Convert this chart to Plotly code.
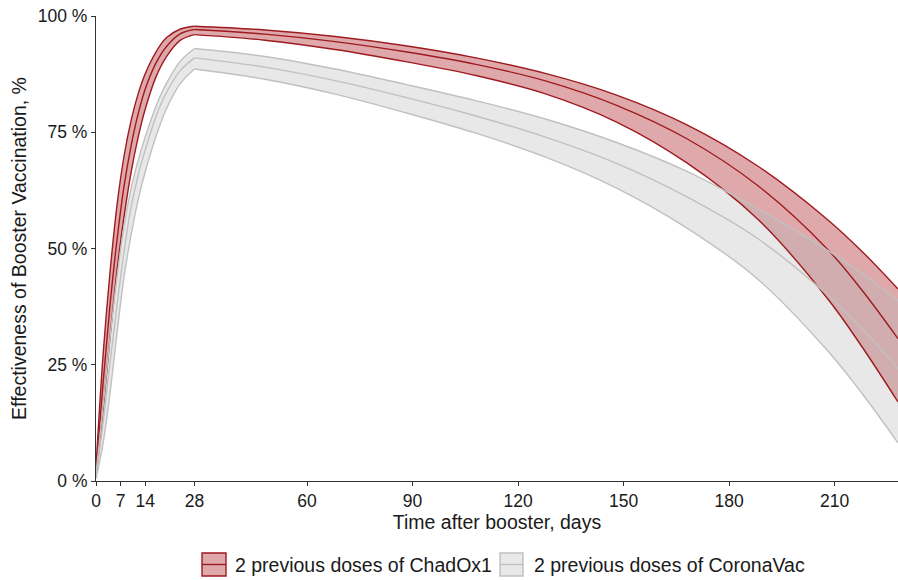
import plotly.graph_objects as go

# ---- data ----
days = [0, 2, 4, 6, 8, 10, 12, 14, 17, 20, 24, 28,
        48, 68, 88, 108, 128, 148, 168, 188, 208, 218, 228]

chad_mid = [2, 21, 38, 52, 63.5, 72.2, 79, 84.3, 89.8, 93.4, 96.2, 97.1,
            96.1, 94.5, 92.3, 89.6, 86.0, 80.8, 73.6, 63.6, 49.8, 40.8, 30.6]
chad_up = [3, 27, 45, 59.5, 70, 77.6, 83.3, 87.6, 92.2, 95.3, 97.2, 97.8,
           97.0, 95.6, 93.6, 91.0, 87.6, 83.0, 76.6, 67.8, 56.2, 49.2, 41.3]
chad_lo = [1, 15, 31, 45.5, 57, 66.5, 74, 80, 86.8, 91.2, 94.8, 96.0,
           94.8, 92.8, 90.2, 87.2, 83.2, 77.2, 68.4, 56.4, 39.2, 28.6, 17.0]

cv_up = [1.5, 16, 31, 44, 55, 63, 69, 74, 80.5, 85.5, 90.3, 93.0,
         91.3, 88.6, 85.3, 81.8, 77.8, 72.8, 66.6, 58.6, 49.6, 44.5, 38.8]
cv_mid = [1, 12.5, 25.5, 38, 49.5, 59, 65.8, 71.2, 78.3, 83.5, 88.3, 91.0,
          89.0, 86.1, 82.5, 78.5, 73.9, 68.3, 61.1, 52.2, 40.0, 32.6, 24.2]
cv_lo = [0.5, 8, 19, 32, 44, 53, 60.5, 66.5, 74, 80, 85.5, 88.6,
         86.4, 83.2, 79.2, 74.8, 69.6, 63.0, 54.4, 43.5, 28.0, 18.6, 8.2]

series_names = ["2 previous doses of ChadOx1", "2 previous doses of CoronaVac"]
x_ticks = [0, 7, 14, 28, 60, 90, 120, 150, 180, 210]
y_ticks = [0, 25, 50, 75, 100]
y_tick_labels = ["0 %", "25 %", "50 %", "75 %", "100 %"]
peak_day = 28

# ---- styling ----
RED_LINE = "rgb(158,26,30)"
RED_FILL = "rgba(170,30,36,0.38)"
GRAY_LINE = "rgb(192,192,192)"
GRAY_FILL = "rgba(185,185,185,0.32)"
FONT = "Liberation Sans, Arial, sans-serif"
TXT = "#1a1a1a"
LW = 1.4
SM = 1.0

k = days.index(peak_day)
segments = [slice(0, k + 1), slice(k, len(days))]   # rise and decline, each smoothed separately

fig = go.Figure()

def band(lo, up, fill):
    for s in segments:
        fig.add_trace(go.Scatter(x=days[s], y=lo[s], mode="lines",
                                 line=dict(width=0, shape="spline", smoothing=SM),
                                 showlegend=False, hoverinfo="skip"))
        fig.add_trace(go.Scatter(x=days[s], y=up[s], mode="lines",
                                 line=dict(width=0, shape="spline", smoothing=SM),
                                 fill="tonexty", fillcolor=fill,
                                 showlegend=False, hoverinfo="skip"))

def line(ys, col):
    for s in segments:
        fig.add_trace(go.Scatter(x=days[s], y=ys[s], mode="lines",
                                 line=dict(color=col, width=LW, shape="spline", smoothing=SM),
                                 showlegend=False))

band(chad_lo, chad_up, RED_FILL)
band(cv_lo, cv_up, GRAY_FILL)
for ys in (chad_lo, chad_up, chad_mid):
    line(ys, RED_LINE)
for ys in (cv_lo, cv_up, cv_mid):
    line(ys, GRAY_LINE)

# ---- manual ggplot-style legend (paper coordinates) ----
L, PW, B, PH = 96, 802, 481, 465
def px_x(p):
    return (p - L) / PW
def px_y(p):
    return (B - p) / PH

shapes = []
annotations = []
leg_items = [(202, 226, RED_FILL, RED_LINE, 233, series_names[0]),
             (500, 523, GRAY_FILL, GRAY_LINE, 532, series_names[1])]
for x0, x1, fc, lc, tx, label in leg_items:
    shapes.append(dict(type="rect", xref="paper", yref="paper",
                       x0=px_x(x0), x1=px_x(x1), y0=px_y(576), y1=px_y(553),
                       fillcolor=fc, line=dict(color=lc, width=LW)))
    shapes.append(dict(type="line", xref="paper", yref="paper",
                       x0=px_x(x0), x1=px_x(x1), y0=px_y(564.5), y1=px_y(564.5),
                       line=dict(color=lc, width=LW)))
    annotations.append(dict(text=label, xref="paper", yref="paper",
                            x=px_x(tx), y=px_y(564.5), xanchor="left", yanchor="middle",
                            showarrow=False, font=dict(family=FONT, size=19.5, color=TXT)))

fig.update_layout(
    width=898, height=580,
    margin=dict(l=96, r=0, t=16, b=99),
    paper_bgcolor="white", plot_bgcolor="white",
    font=dict(family=FONT, size=18, color=TXT),
    shapes=shapes, annotations=annotations,
    showlegend=False,
    xaxis=dict(range=[0, 228], tickvals=x_ticks, ticks="outside", ticklen=4, tickwidth=1.1,
               tickcolor="#333", showline=True, linecolor="#333", linewidth=1.1,
               showgrid=False, zeroline=False, tickfont=dict(size=17.5, color=TXT),
               title=dict(text="Time after booster, days", font=dict(size=19.5, color=TXT), standoff=0)),
    yaxis=dict(range=[0, 100], tickvals=y_ticks, ticktext=y_tick_labels, ticks="outside", ticklen=4,
               tickwidth=1.1, tickcolor="#333", showline=True, linecolor="#333", linewidth=1.1,
               showgrid=False, zeroline=False, tickfont=dict(size=17.5, color=TXT),
               title=dict(text="Effectiveness of Booster Vaccination, %", font=dict(size=19.5, color=TXT),
                          standoff=6)),
)

fig.write_html("out.html", config={"displayModeBar": False},
               post_script="document.body.style.margin='0';")
